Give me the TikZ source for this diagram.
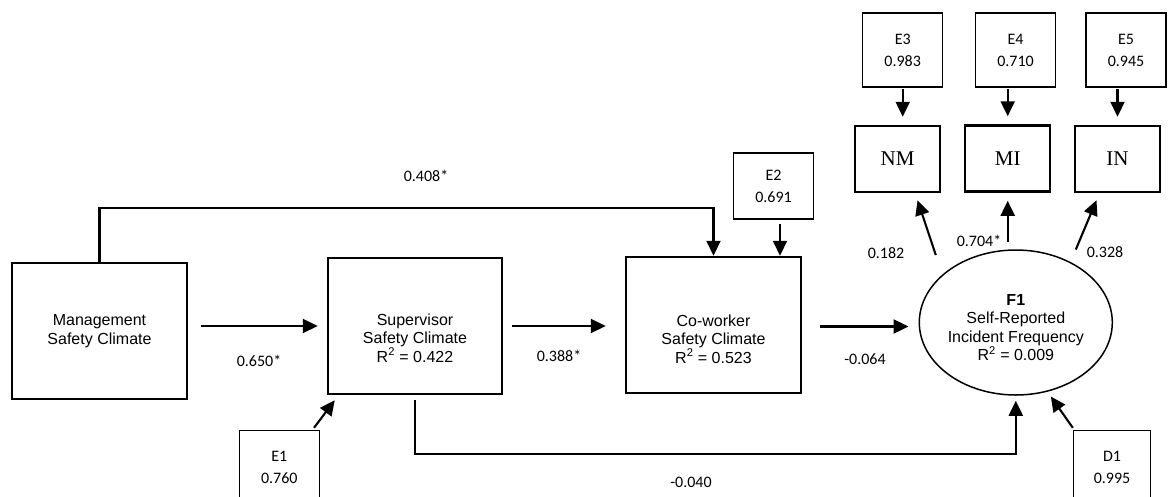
\documentclass[tikz,border=0pt]{standalone}
\usepackage{fontspec}
\setmainfont{Liberation Sans}
\newfontfamily\calfont{Carlito}
\newfontfamily\serfont{Liberation Serif}
\usetikzlibrary{shapes.geometric, arrows.meta, calc}

\begin{document}
\begin{tikzpicture}[x=1pt, y=-1pt,
  var/.style  = {draw, line width=2.5pt, minimum width=175pt,
                 minimum height=136pt, inner sep=0pt},
  vtxt/.style = {align=center, font=\fontsize{16}{18.5}\selectfont},
  ind/.style  = {draw, line width=2.5pt, minimum width=85pt,
                 minimum height=66pt, font=\serfont\fontsize{21}{24}\selectfont},
  err/.style  = {draw, line width=1.4pt, minimum width=80pt, minimum height=74pt,
                 inner sep=0pt, align=center, font=\calfont\fontsize{16}{22}\selectfont},
  lat/.style  = {draw, ellipse, line width=1.5pt, minimum width=193pt,
                 minimum height=145pt, inner sep=0pt},
  coef/.style = {font=\calfont\fontsize{16}{18}\selectfont},
  arr/.style  = {-{Triangle[length=15pt, width=14pt]}, line width=2.1pt},
]

\useasboundingbox (0,0) rectangle (1175,496);
\clip (0,0) rectangle (1175,496);

% ── Climate levels ────────────────────────────────────────────────────────────
\node[var, label={[vtxt]center:Management\\Safety Climate}] (mgmt) at (99.5,331) {};
\node[var, minimum width=174pt,
      label={[vtxt, yshift=-12pt]center:Supervisor\\Safety Climate\\R\textsuperscript{2} = 0.422}]
      (sup) at (415,326) {};
\node[var, label={[vtxt, yshift=-14pt]center:Co-worker\\Safety Climate\\R\textsuperscript{2} = 0.523}]
      (cow) at (713.5,325) {};

% ── Latent outcome ────────────────────────────────────────────────────────────
\node[lat, label={[vtxt, yshift=-5pt]center:\textbf{F1}\\Self-Reported\\Incident Frequency\\R\textsuperscript{2} = 0.009}]
      (f1) at (1015.8,322.5) {};

% ── Indicators ────────────────────────────────────────────────────────────────
\node[ind] (nm) at (897.5,159)   {NM};
\node[ind] (mi) at (1007.7,158.5) {MI};
\node[ind] (in) at (1117.5,159)  {IN};

% ── Error terms ───────────────────────────────────────────────────────────────
\node[err] (e1) at (279.3,467.5) {E1\\0.760};
\node[err, minimum height=66pt] (e2) at (773.5,186) {E2\\0.691};
\node[err] (e3) at (902.7,50)   {E3\\0.983};
\node[err] (e4) at (1015.5,50)  {E4\\0.710};
\node[err] (e5) at (1126,50)    {E5\\0.945};
\node[err, minimum width=77pt] (d1) at (1112,467.5) {D1\\0.995};

% ── Structural paths ──────────────────────────────────────────────────────────
\draw[arr, shorten <=13pt, shorten >=9pt] (mgmt.east |- sup.west) -- (sup.west);
\draw[arr, shorten <=9pt, shorten >=19pt] (sup.east) -- (sup.east -| cow.west);
\draw[arr, shorten <=18pt, shorten >=10pt] ([yshift=-1.5pt]cow.east) -- ([yshift=-1.5pt]cow.east -| f1.west);
\draw[arr] (mgmt.north) -- ++(0,-54) -| (cow.north);
\draw[arr, shorten <=5pt, shorten >=5pt] (sup.south) -- ++(0,58.7) -| (f1.south);

% ── Loadings ──────────────────────────────────────────────────────────────────
\draw[arr] ([shift={(-80,-67.5)}]f1.center) -- ([shift={(20,7)}]nm.south);
\draw[arr] ([shift={(-8.1,-81)}]f1.center)  -- ([yshift=-8pt]mi.south);
\draw[arr] ([shift={(60,-73)}]f1.center)    -- ([shift={(-21,7)}]in.south);

% ── Error paths ───────────────────────────────────────────────────────────────
\draw[arr, shorten <=1pt, shorten >=8pt] (e3.south) -- (e3.south |- nm.north);
\draw[arr, shorten <=1pt, shorten >=8pt] (e4.south -| mi.north) -- (mi.north);
\draw[arr, shorten <=1pt, shorten >=8pt] (e5.south -| in.north) -- (in.north);
\draw[arr, shorten <=4pt] ([xshift=6.5pt]e2.south) -- ([xshift=6.5pt]e2.south |- cow.north);
\draw[arr] ([shift={(-6,-2)}]e1.north east) -- ([shift={(8,5)}]sup.south west);
\draw[arr] ([yshift=2pt]d1.north west) -- ([shift={(35,74)}]f1.center);

% ── Coefficients ──────────────────────────────────────────────────────────────
\node[coef] (cms) at (259,361)   {0.650*};
\node[coef] (csc) at (559,356)   {0.388*};
\node[coef] (cmc) at (426,176)   {0.408*};
\node[coef] (ccf) at (865,359)   {-0.064};
\node[coef] (csf) at (691,482)   {-0.040};
\node[coef] (cnm) at (886,253)   {0.182};
\node[coef] (cmi) at (979,241)   {0.704*};
\node[coef] (cin) at (1105,252)  {0.328};

\end{tikzpicture}
\end{document}
